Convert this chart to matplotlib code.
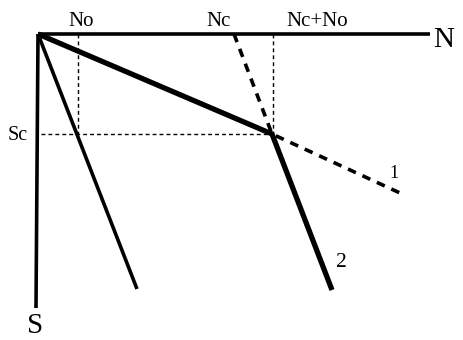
import matplotlib
matplotlib.use("Agg")
import matplotlib.pyplot as plt

# Schematic coordinates (diagram units: x = N to the right, y = S downward)
origin = (38, 34)
N_end = 430
S_end = 308
No_x = 78
Nc_x = 234
NcNo_x = 273
Sc_y = 134
knee = (272, 134)
thin_end = (137, 289)
line2_end = (332, 290)
line1_end = (400, 193)

labels_top = ["No", "Nc", "Nc+No"]
labels_top_x = [81, 219, 317]

plt.rcParams['font.family'] = ['Liberation Serif', 'DejaVu Serif']

fig = plt.figure(figsize=(4.63, 3.40), dpi=100)
ax = fig.add_axes([0, 0, 1, 1])
ax.set_xlim(0, 463)
ax.set_ylim(340, 0)
ax.axis('off')

# axes
ax.plot([origin[0], N_end], [origin[1], origin[1]], color='black', lw=2.6, solid_capstyle='butt')
ax.plot([origin[0], origin[0] - 2], [origin[1], S_end], color='black', lw=2.6, solid_capstyle='butt')

# dotted guides
dot = (0, (2.8, 2.2))
ax.plot([No_x, No_x], [origin[1], Sc_y], color='black', lw=1.0, ls=dot)
ax.plot([NcNo_x, NcNo_x], [origin[1], Sc_y], color='black', lw=1.0, ls=dot)
ax.plot([origin[0] + 3, knee[0]], [Sc_y, Sc_y], color='black', lw=1.0, ls=dot)

# thin line from origin
ax.plot([origin[0], thin_end[0]], [origin[1], thin_end[1]], color='black', lw=2.6, solid_capstyle='butt')

# thick broken line 2
ax.plot([origin[0], knee[0], line2_end[0]], [origin[1], knee[1], line2_end[1]],
        color='black', lw=3.8, solid_capstyle='butt', solid_joinstyle='miter')

# dashed line 1
ax.plot([Nc_x, knee[0], line1_end[0]], [origin[1], knee[1], line1_end[1]],
        color='black', lw=2.6, ls=(0, (2.4, 2.0)))

# labels
for t, x in zip(labels_top, labels_top_x):
    ax.text(x, 26, t, fontsize=15, ha='center', va='baseline')
ax.text(433, 47, "N", fontsize=21, ha='left', va='baseline')
ax.text(27, 333, "S", fontsize=21, ha='left', va='baseline')
ax.text(8, 140, "Sc", fontsize=14.5, ha='left', va='baseline')
ax.text(394, 178, "1", fontsize=13, ha='center', va='baseline')
ax.text(341, 267, "2", fontsize=15.5, ha='center', va='baseline')

fig.savefig("out.png", dpi=100)
